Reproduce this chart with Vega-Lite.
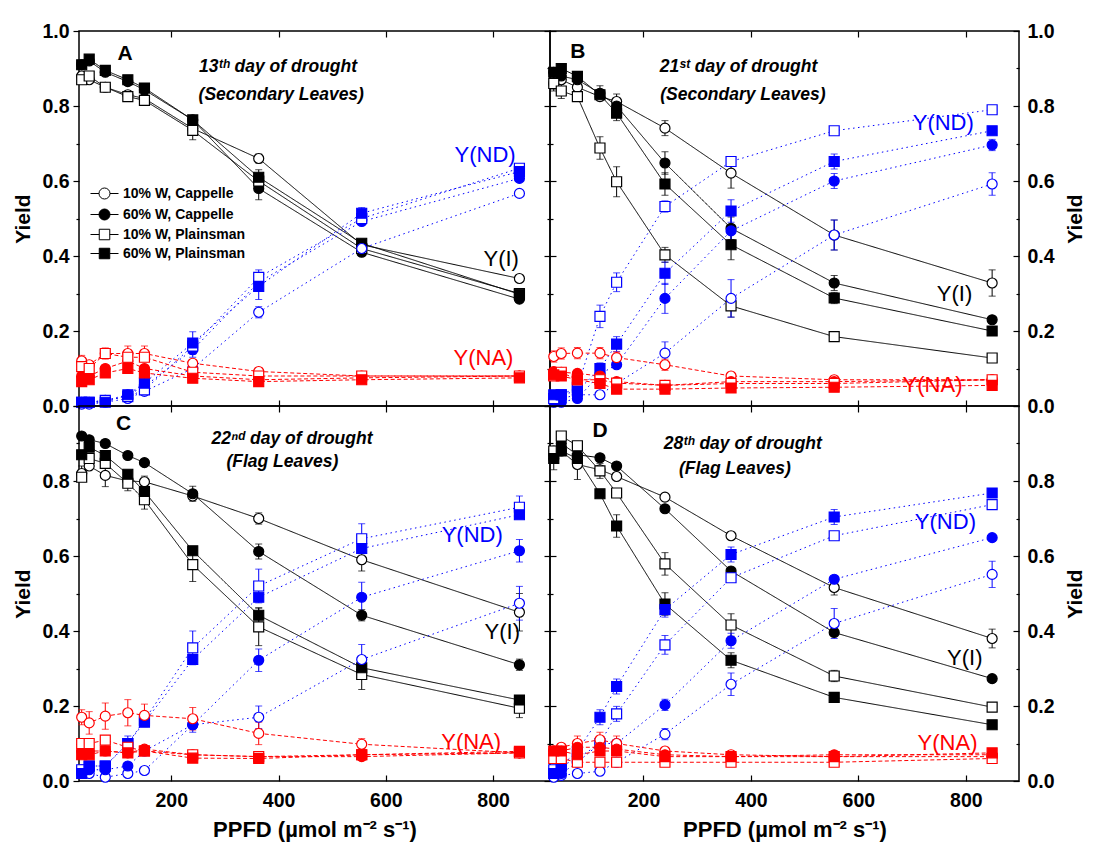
{
"$schema": "https://vega.github.io/schema/vega-lite/v6.json",
"background": "white",
"padding": {"left": 12, "top": 20, "right": 2, "bottom": 2},
"config": {
  "font": "Liberation Sans",
  "view": {"stroke": "black", "strokeWidth": 1.5},
  "axis": {"labelFont": "Liberation Sans", "labelFontSize": 19.5, "labelFontWeight": "bold", "labelColor": "black", "titleFont": "Liberation Sans", "titleFontSize": 21, "titleFontWeight": "bold", "titleColor": "black", "tickColor": "black", "tickWidth": 1.2, "grid": false, "domain": false}
},
"datasets": {
"leg": [{"t": "10% W, Cappelle"}, {"t": "60% W, Cappelle"}, {"t": "10% W, Plainsman"}, {"t": "60% W, Plainsman"}],
"ann": [
{"p":"A","k":"L","x":114,"y":0.94,"text":"A"},
{"p":"A","k":"T","x":399,"y":0.903,"text":"13ᵗʰ day of drought"},
{"p":"A","k":"T","x":405,"y":0.83,"text":"(Secondary Leaves)"},
{"p":"A","k":"P","x":785,"y":0.67,"text":"Y(ND)"},
{"p":"A","k":"P","x":815,"y":0.393,"text":"Y(I)"},
{"p":"A","k":"P","x":782,"y":0.127,"text":"Y(NA)"},
{"p":"B","k":"L","x":78,"y":0.945,"text":"B"},
{"p":"B","k":"T","x":377,"y":0.903,"text":"21ˢᵗ day of drought"},
{"p":"B","k":"T","x":385,"y":0.829,"text":"(Secondary Leaves)"},
{"p":"B","k":"P","x":758,"y":0.756,"text":"Y(ND)"},
{"p":"B","k":"P","x":779,"y":0.30,"text":"Y(I)"},
{"p":"B","k":"P","x":738,"y":0.057,"text":"Y(NA)"},
{"p":"C","k":"L","x":111,"y":0.952,"text":"C"},
{"p":"C","k":"T","x":425,"y":0.912,"text":"22ⁿᵈ day of drought"},
{"p":"C","k":"T","x":407,"y":0.85,"text":"(Flag Leaves)"},
{"p":"C","k":"P","x":761,"y":0.656,"text":"Y(ND)"},
{"p":"C","k":"P","x":817,"y":0.397,"text":"Y(I)"},
{"p":"C","k":"P","x":759,"y":0.104,"text":"Y(NA)"},
{"p":"D","k":"L","x":119,"y":0.933,"text":"D"},
{"p":"D","k":"T","x":385,"y":0.90,"text":"28ᵗʰ day of drought"},
{"p":"D","k":"T","x":370,"y":0.832,"text":"(Flag Leaves)"},
{"p":"D","k":"P","x":762,"y":0.69,"text":"Y(ND)"},
{"p":"D","k":"P","x":798,"y":0.328,"text":"Y(I)"},
{"p":"D","k":"P","x":766,"y":0.101,"text":"Y(NA)"}
],
"main": [
{"p":"A","m":"I","t":"10C","x":33,"y":0.88,"e":0.008},{"p":"A","m":"I","t":"10C","x":47,"y":0.87,"e":0.008},{"p":"A","m":"I","t":"10C","x":77,"y":0.85,"e":0.008},{"p":"A","m":"I","t":"10C","x":119,"y":0.83,"e":0.008},{"p":"A","m":"I","t":"10C","x":150,"y":0.82,"e":0.008},{"p":"A","m":"I","t":"10C","x":240,"y":0.74,"e":0.008},{"p":"A","m":"I","t":"10C","x":363,"y":0.66,"e":0.012},{"p":"A","m":"I","t":"10C","x":555,"y":0.43,"e":0.008},{"p":"A","m":"I","t":"10C","x":849,"y":0.34,"e":0.008},
{"p":"A","m":"I","t":"60C","x":33,"y":0.91,"e":0.008},{"p":"A","m":"I","t":"60C","x":47,"y":0.92,"e":0.008},{"p":"A","m":"I","t":"60C","x":77,"y":0.89,"e":0.008},{"p":"A","m":"I","t":"60C","x":119,"y":0.865,"e":0.008},{"p":"A","m":"I","t":"60C","x":150,"y":0.843,"e":0.008},{"p":"A","m":"I","t":"60C","x":240,"y":0.763,"e":0.008},{"p":"A","m":"I","t":"60C","x":363,"y":0.58,"e":0.03},{"p":"A","m":"I","t":"60C","x":555,"y":0.41,"e":0.01},{"p":"A","m":"I","t":"60C","x":849,"y":0.285,"e":0.008},
{"p":"A","m":"I","t":"10P","x":33,"y":0.87,"e":0.008},{"p":"A","m":"I","t":"10P","x":47,"y":0.88,"e":0.008},{"p":"A","m":"I","t":"10P","x":77,"y":0.85,"e":0.008},{"p":"A","m":"I","t":"10P","x":119,"y":0.825,"e":0.008},{"p":"A","m":"I","t":"10P","x":150,"y":0.815,"e":0.008},{"p":"A","m":"I","t":"10P","x":240,"y":0.735,"e":0.025},{"p":"A","m":"I","t":"10P","x":363,"y":0.60,"e":0.02},{"p":"A","m":"I","t":"10P","x":555,"y":0.42,"e":0.008},{"p":"A","m":"I","t":"10P","x":849,"y":0.30,"e":0.008},
{"p":"A","m":"I","t":"60P","x":33,"y":0.91,"e":0.008},{"p":"A","m":"I","t":"60P","x":47,"y":0.925,"e":0.008},{"p":"A","m":"I","t":"60P","x":77,"y":0.895,"e":0.008},{"p":"A","m":"I","t":"60P","x":119,"y":0.87,"e":0.008},{"p":"A","m":"I","t":"60P","x":150,"y":0.848,"e":0.008},{"p":"A","m":"I","t":"60P","x":240,"y":0.763,"e":0.008},{"p":"A","m":"I","t":"60P","x":363,"y":0.61,"e":0.02},{"p":"A","m":"I","t":"60P","x":555,"y":0.434,"e":0.008},{"p":"A","m":"I","t":"60P","x":849,"y":0.298,"e":0.008},
{"p":"A","m":"ND","t":"10C","x":33,"y":0.005,"e":0.008},{"p":"A","m":"ND","t":"10C","x":47,"y":0.005,"e":0.008},{"p":"A","m":"ND","t":"10C","x":77,"y":0.01,"e":0.008},{"p":"A","m":"ND","t":"10C","x":119,"y":0.02,"e":0.008},{"p":"A","m":"ND","t":"10C","x":150,"y":0.039,"e":0.008},{"p":"A","m":"ND","t":"10C","x":240,"y":0.10,"e":0.008},{"p":"A","m":"ND","t":"10C","x":363,"y":0.25,"e":0.015},{"p":"A","m":"ND","t":"10C","x":555,"y":0.42,"e":0.008},{"p":"A","m":"ND","t":"10C","x":849,"y":0.567,"e":0.008},
{"p":"A","m":"ND","t":"60C","x":33,"y":0.01,"e":0.008},{"p":"A","m":"ND","t":"60C","x":47,"y":0.01,"e":0.008},{"p":"A","m":"ND","t":"60C","x":77,"y":0.015,"e":0.008},{"p":"A","m":"ND","t":"60C","x":119,"y":0.03,"e":0.008},{"p":"A","m":"ND","t":"60C","x":150,"y":0.052,"e":0.008},{"p":"A","m":"ND","t":"60C","x":240,"y":0.15,"e":0.02},{"p":"A","m":"ND","t":"60C","x":363,"y":0.33,"e":0.02},{"p":"A","m":"ND","t":"60C","x":555,"y":0.492,"e":0.008},{"p":"A","m":"ND","t":"60C","x":849,"y":0.607,"e":0.008},
{"p":"A","m":"ND","t":"10P","x":33,"y":0.01,"e":0.008},{"p":"A","m":"ND","t":"10P","x":47,"y":0.01,"e":0.008},{"p":"A","m":"ND","t":"10P","x":77,"y":0.015,"e":0.008},{"p":"A","m":"ND","t":"10P","x":119,"y":0.025,"e":0.008},{"p":"A","m":"ND","t":"10P","x":150,"y":0.043,"e":0.008},{"p":"A","m":"ND","t":"10P","x":240,"y":0.16,"e":0.02},{"p":"A","m":"ND","t":"10P","x":363,"y":0.343,"e":0.02},{"p":"A","m":"ND","t":"10P","x":555,"y":0.50,"e":0.008},{"p":"A","m":"ND","t":"10P","x":849,"y":0.634,"e":0.008},
{"p":"A","m":"ND","t":"60P","x":33,"y":0.01,"e":0.008},{"p":"A","m":"ND","t":"60P","x":47,"y":0.01,"e":0.008},{"p":"A","m":"ND","t":"60P","x":77,"y":0.01,"e":0.008},{"p":"A","m":"ND","t":"60P","x":119,"y":0.03,"e":0.008},{"p":"A","m":"ND","t":"60P","x":150,"y":0.061,"e":0.015},{"p":"A","m":"ND","t":"60P","x":240,"y":0.168,"e":0.03},{"p":"A","m":"ND","t":"60P","x":363,"y":0.319,"e":0.035},{"p":"A","m":"ND","t":"60P","x":555,"y":0.514,"e":0.015},{"p":"A","m":"ND","t":"60P","x":849,"y":0.625,"e":0.015},
{"p":"A","m":"NA","t":"10C","x":33,"y":0.12,"e":0.015},{"p":"A","m":"NA","t":"10C","x":47,"y":0.11,"e":0.008},{"p":"A","m":"NA","t":"10C","x":77,"y":0.14,"e":0.015},{"p":"A","m":"NA","t":"10C","x":119,"y":0.14,"e":0.02},{"p":"A","m":"NA","t":"10C","x":150,"y":0.14,"e":0.02},{"p":"A","m":"NA","t":"10C","x":240,"y":0.114,"e":0.008},{"p":"A","m":"NA","t":"10C","x":363,"y":0.092,"e":0.01},{"p":"A","m":"NA","t":"10C","x":555,"y":0.08,"e":0.008},{"p":"A","m":"NA","t":"10C","x":849,"y":0.08,"e":0.008},
{"p":"A","m":"NA","t":"60C","x":33,"y":0.08,"e":0.008},{"p":"A","m":"NA","t":"60C","x":47,"y":0.08,"e":0.008},{"p":"A","m":"NA","t":"60C","x":77,"y":0.10,"e":0.008},{"p":"A","m":"NA","t":"60C","x":119,"y":0.12,"e":0.008},{"p":"A","m":"NA","t":"60C","x":150,"y":0.10,"e":0.008},{"p":"A","m":"NA","t":"60C","x":240,"y":0.08,"e":0.008},{"p":"A","m":"NA","t":"60C","x":363,"y":0.07,"e":0.008},{"p":"A","m":"NA","t":"60C","x":555,"y":0.075,"e":0.008},{"p":"A","m":"NA","t":"60C","x":849,"y":0.08,"e":0.008},
{"p":"A","m":"NA","t":"10P","x":33,"y":0.105,"e":0.008},{"p":"A","m":"NA","t":"10P","x":47,"y":0.10,"e":0.008},{"p":"A","m":"NA","t":"10P","x":77,"y":0.14,"e":0.008},{"p":"A","m":"NA","t":"10P","x":119,"y":0.13,"e":0.008},{"p":"A","m":"NA","t":"10P","x":150,"y":0.13,"e":0.008},{"p":"A","m":"NA","t":"10P","x":240,"y":0.09,"e":0.008},{"p":"A","m":"NA","t":"10P","x":363,"y":0.08,"e":0.008},{"p":"A","m":"NA","t":"10P","x":555,"y":0.08,"e":0.008},{"p":"A","m":"NA","t":"10P","x":849,"y":0.08,"e":0.008},
{"p":"A","m":"NA","t":"60P","x":33,"y":0.065,"e":0.008},{"p":"A","m":"NA","t":"60P","x":47,"y":0.07,"e":0.008},{"p":"A","m":"NA","t":"60P","x":77,"y":0.088,"e":0.008},{"p":"A","m":"NA","t":"60P","x":119,"y":0.10,"e":0.008},{"p":"A","m":"NA","t":"60P","x":150,"y":0.088,"e":0.008},{"p":"A","m":"NA","t":"60P","x":240,"y":0.074,"e":0.008},{"p":"A","m":"NA","t":"60P","x":363,"y":0.065,"e":0.008},{"p":"A","m":"NA","t":"60P","x":555,"y":0.07,"e":0.008},{"p":"A","m":"NA","t":"60P","x":849,"y":0.075,"e":0.008},

{"p":"B","m":"I","t":"10C","x":33,"y":0.86,"e":0.015},{"p":"B","m":"I","t":"10C","x":47,"y":0.87,"e":0.008},{"p":"B","m":"I","t":"10C","x":77,"y":0.85,"e":0.008},{"p":"B","m":"I","t":"10C","x":119,"y":0.825,"e":0.008},{"p":"B","m":"I","t":"10C","x":150,"y":0.812,"e":0.02},{"p":"B","m":"I","t":"10C","x":240,"y":0.741,"e":0.02},{"p":"B","m":"I","t":"10C","x":363,"y":0.621,"e":0.04},{"p":"B","m":"I","t":"10C","x":555,"y":0.456,"e":0.04},{"p":"B","m":"I","t":"10C","x":849,"y":0.328,"e":0.035},
{"p":"B","m":"I","t":"60C","x":33,"y":0.89,"e":0.008},{"p":"B","m":"I","t":"60C","x":47,"y":0.88,"e":0.008},{"p":"B","m":"I","t":"60C","x":77,"y":0.87,"e":0.008},{"p":"B","m":"I","t":"60C","x":119,"y":0.834,"e":0.02},{"p":"B","m":"I","t":"60C","x":150,"y":0.80,"e":0.008},{"p":"B","m":"I","t":"60C","x":240,"y":0.648,"e":0.03},{"p":"B","m":"I","t":"60C","x":363,"y":0.474,"e":0.03},{"p":"B","m":"I","t":"60C","x":555,"y":0.328,"e":0.02},{"p":"B","m":"I","t":"60C","x":849,"y":0.23,"e":0.008},
{"p":"B","m":"I","t":"10P","x":33,"y":0.86,"e":0.02},{"p":"B","m":"I","t":"10P","x":47,"y":0.84,"e":0.02},{"p":"B","m":"I","t":"10P","x":77,"y":0.825,"e":0.008},{"p":"B","m":"I","t":"10P","x":119,"y":0.688,"e":0.03},{"p":"B","m":"I","t":"10P","x":150,"y":0.598,"e":0.04},{"p":"B","m":"I","t":"10P","x":240,"y":0.403,"e":0.02},{"p":"B","m":"I","t":"10P","x":363,"y":0.267,"e":0.03},{"p":"B","m":"I","t":"10P","x":555,"y":0.185,"e":0.008},{"p":"B","m":"I","t":"10P","x":849,"y":0.128,"e":0.008},
{"p":"B","m":"I","t":"60P","x":33,"y":0.89,"e":0.008},{"p":"B","m":"I","t":"60P","x":47,"y":0.90,"e":0.008},{"p":"B","m":"I","t":"60P","x":77,"y":0.879,"e":0.008},{"p":"B","m":"I","t":"60P","x":119,"y":0.83,"e":0.008},{"p":"B","m":"I","t":"60P","x":150,"y":0.781,"e":0.02},{"p":"B","m":"I","t":"60P","x":240,"y":0.592,"e":0.03},{"p":"B","m":"I","t":"60P","x":363,"y":0.43,"e":0.04},{"p":"B","m":"I","t":"60P","x":555,"y":0.288,"e":0.015},{"p":"B","m":"I","t":"60P","x":849,"y":0.20,"e":0.008},
{"p":"B","m":"ND","t":"10C","x":33,"y":0.02,"e":0.008},{"p":"B","m":"ND","t":"10C","x":47,"y":0.02,"e":0.008},{"p":"B","m":"ND","t":"10C","x":77,"y":0.03,"e":0.008},{"p":"B","m":"ND","t":"10C","x":119,"y":0.03,"e":0.008},{"p":"B","m":"ND","t":"10C","x":150,"y":0.06,"e":0.008},{"p":"B","m":"ND","t":"10C","x":240,"y":0.141,"e":0.03},{"p":"B","m":"ND","t":"10C","x":363,"y":0.287,"e":0.05},{"p":"B","m":"ND","t":"10C","x":555,"y":0.456,"e":0.04},{"p":"B","m":"ND","t":"10C","x":849,"y":0.592,"e":0.03},
{"p":"B","m":"ND","t":"60C","x":33,"y":0.01,"e":0.008},{"p":"B","m":"ND","t":"60C","x":47,"y":0.01,"e":0.008},{"p":"B","m":"ND","t":"60C","x":77,"y":0.02,"e":0.008},{"p":"B","m":"ND","t":"60C","x":119,"y":0.085,"e":0.008},{"p":"B","m":"ND","t":"60C","x":150,"y":0.11,"e":0.008},{"p":"B","m":"ND","t":"60C","x":240,"y":0.287,"e":0.04},{"p":"B","m":"ND","t":"60C","x":363,"y":0.467,"e":0.04},{"p":"B","m":"ND","t":"60C","x":555,"y":0.60,"e":0.02},{"p":"B","m":"ND","t":"60C","x":849,"y":0.696,"e":0.015},
{"p":"B","m":"ND","t":"10P","x":33,"y":0.02,"e":0.008},{"p":"B","m":"ND","t":"10P","x":47,"y":0.03,"e":0.008},{"p":"B","m":"ND","t":"10P","x":77,"y":0.05,"e":0.008},{"p":"B","m":"ND","t":"10P","x":119,"y":0.239,"e":0.03},{"p":"B","m":"ND","t":"10P","x":150,"y":0.33,"e":0.025},{"p":"B","m":"ND","t":"10P","x":240,"y":0.532,"e":0.015},{"p":"B","m":"ND","t":"10P","x":363,"y":0.652,"e":0.01},{"p":"B","m":"ND","t":"10P","x":555,"y":0.734,"e":0.008},{"p":"B","m":"ND","t":"10P","x":849,"y":0.79,"e":0.008},
{"p":"B","m":"ND","t":"60P","x":33,"y":0.03,"e":0.008},{"p":"B","m":"ND","t":"60P","x":47,"y":0.03,"e":0.008},{"p":"B","m":"ND","t":"60P","x":77,"y":0.04,"e":0.008},{"p":"B","m":"ND","t":"60P","x":119,"y":0.10,"e":0.015},{"p":"B","m":"ND","t":"60P","x":150,"y":0.165,"e":0.02},{"p":"B","m":"ND","t":"60P","x":240,"y":0.354,"e":0.03},{"p":"B","m":"ND","t":"60P","x":363,"y":0.52,"e":0.03},{"p":"B","m":"ND","t":"60P","x":555,"y":0.652,"e":0.02},{"p":"B","m":"ND","t":"60P","x":849,"y":0.734,"e":0.008},
{"p":"B","m":"NA","t":"10C","x":33,"y":0.132,"e":0.015},{"p":"B","m":"NA","t":"10C","x":47,"y":0.14,"e":0.015},{"p":"B","m":"NA","t":"10C","x":77,"y":0.141,"e":0.015},{"p":"B","m":"NA","t":"10C","x":119,"y":0.141,"e":0.015},{"p":"B","m":"NA","t":"10C","x":150,"y":0.129,"e":0.015},{"p":"B","m":"NA","t":"10C","x":240,"y":0.11,"e":0.015},{"p":"B","m":"NA","t":"10C","x":363,"y":0.08,"e":0.008},{"p":"B","m":"NA","t":"10C","x":555,"y":0.07,"e":0.008},{"p":"B","m":"NA","t":"10C","x":849,"y":0.07,"e":0.008},
{"p":"B","m":"NA","t":"60C","x":33,"y":0.092,"e":0.008},{"p":"B","m":"NA","t":"60C","x":47,"y":0.09,"e":0.008},{"p":"B","m":"NA","t":"60C","x":77,"y":0.087,"e":0.008},{"p":"B","m":"NA","t":"60C","x":119,"y":0.08,"e":0.008},{"p":"B","m":"NA","t":"60C","x":150,"y":0.065,"e":0.008},{"p":"B","m":"NA","t":"60C","x":240,"y":0.055,"e":0.008},{"p":"B","m":"NA","t":"60C","x":363,"y":0.065,"e":0.008},{"p":"B","m":"NA","t":"60C","x":555,"y":0.065,"e":0.008},{"p":"B","m":"NA","t":"60C","x":849,"y":0.07,"e":0.008},
{"p":"B","m":"NA","t":"10P","x":33,"y":0.08,"e":0.008},{"p":"B","m":"NA","t":"10P","x":47,"y":0.09,"e":0.008},{"p":"B","m":"NA","t":"10P","x":77,"y":0.07,"e":0.008},{"p":"B","m":"NA","t":"10P","x":119,"y":0.07,"e":0.008},{"p":"B","m":"NA","t":"10P","x":150,"y":0.061,"e":0.008},{"p":"B","m":"NA","t":"10P","x":240,"y":0.055,"e":0.008},{"p":"B","m":"NA","t":"10P","x":363,"y":0.06,"e":0.008},{"p":"B","m":"NA","t":"10P","x":555,"y":0.06,"e":0.008},{"p":"B","m":"NA","t":"10P","x":849,"y":0.07,"e":0.008},
{"p":"B","m":"NA","t":"60P","x":33,"y":0.083,"e":0.008},{"p":"B","m":"NA","t":"60P","x":47,"y":0.08,"e":0.008},{"p":"B","m":"NA","t":"60P","x":77,"y":0.07,"e":0.008},{"p":"B","m":"NA","t":"60P","x":119,"y":0.06,"e":0.008},{"p":"B","m":"NA","t":"60P","x":150,"y":0.045,"e":0.008},{"p":"B","m":"NA","t":"60P","x":240,"y":0.045,"e":0.008},{"p":"B","m":"NA","t":"60P","x":363,"y":0.048,"e":0.008},{"p":"B","m":"NA","t":"60P","x":555,"y":0.05,"e":0.008},{"p":"B","m":"NA","t":"60P","x":849,"y":0.055,"e":0.008},

{"p":"C","m":"I","t":"10C","x":33,"y":0.82,"e":0.02},{"p":"C","m":"I","t":"10C","x":47,"y":0.84,"e":0.008},{"p":"C","m":"I","t":"10C","x":77,"y":0.815,"e":0.03},{"p":"C","m":"I","t":"10C","x":119,"y":0.80,"e":0.008},{"p":"C","m":"I","t":"10C","x":150,"y":0.798,"e":0.015},{"p":"C","m":"I","t":"10C","x":240,"y":0.76,"e":0.008},{"p":"C","m":"I","t":"10C","x":363,"y":0.70,"e":0.015},{"p":"C","m":"I","t":"10C","x":555,"y":0.59,"e":0.03},{"p":"C","m":"I","t":"10C","x":849,"y":0.45,"e":0.05},
{"p":"C","m":"I","t":"60C","x":33,"y":0.92,"e":0.008},{"p":"C","m":"I","t":"60C","x":47,"y":0.91,"e":0.008},{"p":"C","m":"I","t":"60C","x":77,"y":0.90,"e":0.008},{"p":"C","m":"I","t":"60C","x":119,"y":0.868,"e":0.008},{"p":"C","m":"I","t":"60C","x":150,"y":0.849,"e":0.008},{"p":"C","m":"I","t":"60C","x":240,"y":0.766,"e":0.02},{"p":"C","m":"I","t":"60C","x":363,"y":0.612,"e":0.02},{"p":"C","m":"I","t":"60C","x":555,"y":0.442,"e":0.015},{"p":"C","m":"I","t":"60C","x":849,"y":0.31,"e":0.015},
{"p":"C","m":"I","t":"10P","x":33,"y":0.81,"e":0.008},{"p":"C","m":"I","t":"10P","x":47,"y":0.86,"e":0.008},{"p":"C","m":"I","t":"10P","x":77,"y":0.847,"e":0.008},{"p":"C","m":"I","t":"10P","x":119,"y":0.794,"e":0.02},{"p":"C","m":"I","t":"10P","x":150,"y":0.75,"e":0.025},{"p":"C","m":"I","t":"10P","x":240,"y":0.577,"e":0.045},{"p":"C","m":"I","t":"10P","x":363,"y":0.411,"e":0.05},{"p":"C","m":"I","t":"10P","x":555,"y":0.284,"e":0.04},{"p":"C","m":"I","t":"10P","x":849,"y":0.194,"e":0.025},
{"p":"C","m":"I","t":"60P","x":33,"y":0.87,"e":0.008},{"p":"C","m":"I","t":"60P","x":47,"y":0.89,"e":0.008},{"p":"C","m":"I","t":"60P","x":77,"y":0.868,"e":0.008},{"p":"C","m":"I","t":"60P","x":119,"y":0.818,"e":0.008},{"p":"C","m":"I","t":"60P","x":150,"y":0.772,"e":0.008},{"p":"C","m":"I","t":"60P","x":240,"y":0.614,"e":0.008},{"p":"C","m":"I","t":"60P","x":363,"y":0.442,"e":0.02},{"p":"C","m":"I","t":"60P","x":555,"y":0.302,"e":0.008},{"p":"C","m":"I","t":"60P","x":849,"y":0.216,"e":0.008},
{"p":"C","m":"ND","t":"10C","x":33,"y":0.02,"e":0.008},{"p":"C","m":"ND","t":"10C","x":47,"y":0.02,"e":0.008},{"p":"C","m":"ND","t":"10C","x":77,"y":0.01,"e":0.008},{"p":"C","m":"ND","t":"10C","x":119,"y":0.02,"e":0.008},{"p":"C","m":"ND","t":"10C","x":150,"y":0.028,"e":0.008},{"p":"C","m":"ND","t":"10C","x":240,"y":0.15,"e":0.02},{"p":"C","m":"ND","t":"10C","x":363,"y":0.17,"e":0.03},{"p":"C","m":"ND","t":"10C","x":555,"y":0.324,"e":0.04},{"p":"C","m":"ND","t":"10C","x":849,"y":0.474,"e":0.045},
{"p":"C","m":"ND","t":"60C","x":33,"y":0.03,"e":0.008},{"p":"C","m":"ND","t":"60C","x":47,"y":0.03,"e":0.008},{"p":"C","m":"ND","t":"60C","x":77,"y":0.03,"e":0.008},{"p":"C","m":"ND","t":"60C","x":119,"y":0.04,"e":0.008},{"p":"C","m":"ND","t":"60C","x":150,"y":0.08,"e":0.008},{"p":"C","m":"ND","t":"60C","x":240,"y":0.15,"e":0.008},{"p":"C","m":"ND","t":"60C","x":363,"y":0.322,"e":0.03},{"p":"C","m":"ND","t":"60C","x":555,"y":0.49,"e":0.04},{"p":"C","m":"ND","t":"60C","x":849,"y":0.614,"e":0.03},
{"p":"C","m":"ND","t":"10P","x":33,"y":0.03,"e":0.008},{"p":"C","m":"ND","t":"10P","x":47,"y":0.04,"e":0.008},{"p":"C","m":"ND","t":"10P","x":77,"y":0.04,"e":0.008},{"p":"C","m":"ND","t":"10P","x":119,"y":0.10,"e":0.02},{"p":"C","m":"ND","t":"10P","x":150,"y":0.162,"e":0.008},{"p":"C","m":"ND","t":"10P","x":240,"y":0.355,"e":0.045},{"p":"C","m":"ND","t":"10P","x":363,"y":0.52,"e":0.045},{"p":"C","m":"ND","t":"10P","x":555,"y":0.646,"e":0.04},{"p":"C","m":"ND","t":"10P","x":849,"y":0.73,"e":0.03},
{"p":"C","m":"ND","t":"60P","x":33,"y":0.02,"e":0.008},{"p":"C","m":"ND","t":"60P","x":47,"y":0.04,"e":0.008},{"p":"C","m":"ND","t":"60P","x":77,"y":0.04,"e":0.008},{"p":"C","m":"ND","t":"60P","x":119,"y":0.10,"e":0.008},{"p":"C","m":"ND","t":"60P","x":150,"y":0.157,"e":0.008},{"p":"C","m":"ND","t":"60P","x":240,"y":0.324,"e":0.008},{"p":"C","m":"ND","t":"60P","x":363,"y":0.49,"e":0.008},{"p":"C","m":"ND","t":"60P","x":555,"y":0.62,"e":0.008},{"p":"C","m":"ND","t":"60P","x":849,"y":0.71,"e":0.008},
{"p":"C","m":"NA","t":"10C","x":33,"y":0.17,"e":0.02},{"p":"C","m":"NA","t":"10C","x":47,"y":0.155,"e":0.03},{"p":"C","m":"NA","t":"10C","x":77,"y":0.173,"e":0.035},{"p":"C","m":"NA","t":"10C","x":119,"y":0.182,"e":0.035},{"p":"C","m":"NA","t":"10C","x":150,"y":0.175,"e":0.03},{"p":"C","m":"NA","t":"10C","x":240,"y":0.166,"e":0.03},{"p":"C","m":"NA","t":"10C","x":363,"y":0.127,"e":0.03},{"p":"C","m":"NA","t":"10C","x":555,"y":0.098,"e":0.015},{"p":"C","m":"NA","t":"10C","x":849,"y":0.075,"e":0.008},
{"p":"C","m":"NA","t":"60C","x":33,"y":0.08,"e":0.008},{"p":"C","m":"NA","t":"60C","x":47,"y":0.08,"e":0.008},{"p":"C","m":"NA","t":"60C","x":77,"y":0.08,"e":0.008},{"p":"C","m":"NA","t":"60C","x":119,"y":0.075,"e":0.008},{"p":"C","m":"NA","t":"60C","x":150,"y":0.085,"e":0.008},{"p":"C","m":"NA","t":"60C","x":240,"y":0.07,"e":0.008},{"p":"C","m":"NA","t":"60C","x":363,"y":0.065,"e":0.008},{"p":"C","m":"NA","t":"60C","x":555,"y":0.065,"e":0.008},{"p":"C","m":"NA","t":"60C","x":849,"y":0.075,"e":0.008},
{"p":"C","m":"NA","t":"10P","x":33,"y":0.10,"e":0.008},{"p":"C","m":"NA","t":"10P","x":47,"y":0.10,"e":0.008},{"p":"C","m":"NA","t":"10P","x":77,"y":0.109,"e":0.008},{"p":"C","m":"NA","t":"10P","x":119,"y":0.09,"e":0.008},{"p":"C","m":"NA","t":"10P","x":150,"y":0.08,"e":0.008},{"p":"C","m":"NA","t":"10P","x":240,"y":0.07,"e":0.008},{"p":"C","m":"NA","t":"10P","x":363,"y":0.065,"e":0.008},{"p":"C","m":"NA","t":"10P","x":555,"y":0.07,"e":0.008},{"p":"C","m":"NA","t":"10P","x":849,"y":0.075,"e":0.008},
{"p":"C","m":"NA","t":"60P","x":33,"y":0.07,"e":0.008},{"p":"C","m":"NA","t":"60P","x":47,"y":0.07,"e":0.008},{"p":"C","m":"NA","t":"60P","x":77,"y":0.08,"e":0.008},{"p":"C","m":"NA","t":"60P","x":119,"y":0.075,"e":0.008},{"p":"C","m":"NA","t":"60P","x":150,"y":0.08,"e":0.008},{"p":"C","m":"NA","t":"60P","x":240,"y":0.061,"e":0.008},{"p":"C","m":"NA","t":"60P","x":363,"y":0.06,"e":0.008},{"p":"C","m":"NA","t":"60P","x":555,"y":0.07,"e":0.008},{"p":"C","m":"NA","t":"60P","x":849,"y":0.079,"e":0.008},

{"p":"D","m":"I","t":"10C","x":33,"y":0.86,"e":0.03},{"p":"D","m":"I","t":"10C","x":47,"y":0.88,"e":0.008},{"p":"D","m":"I","t":"10C","x":77,"y":0.844,"e":0.04},{"p":"D","m":"I","t":"10C","x":119,"y":0.83,"e":0.008},{"p":"D","m":"I","t":"10C","x":150,"y":0.812,"e":0.008},{"p":"D","m":"I","t":"10C","x":240,"y":0.757,"e":0.01},{"p":"D","m":"I","t":"10C","x":363,"y":0.654,"e":0.008},{"p":"D","m":"I","t":"10C","x":555,"y":0.516,"e":0.02},{"p":"D","m":"I","t":"10C","x":849,"y":0.38,"e":0.025},
{"p":"D","m":"I","t":"60C","x":33,"y":0.88,"e":0.008},{"p":"D","m":"I","t":"60C","x":47,"y":0.90,"e":0.008},{"p":"D","m":"I","t":"60C","x":77,"y":0.87,"e":0.008},{"p":"D","m":"I","t":"60C","x":119,"y":0.862,"e":0.008},{"p":"D","m":"I","t":"60C","x":150,"y":0.84,"e":0.008},{"p":"D","m":"I","t":"60C","x":240,"y":0.726,"e":0.008},{"p":"D","m":"I","t":"60C","x":363,"y":0.56,"e":0.008},{"p":"D","m":"I","t":"60C","x":555,"y":0.396,"e":0.008},{"p":"D","m":"I","t":"60C","x":849,"y":0.273,"e":0.008},
{"p":"D","m":"I","t":"10P","x":33,"y":0.88,"e":0.008},{"p":"D","m":"I","t":"10P","x":47,"y":0.92,"e":0.008},{"p":"D","m":"I","t":"10P","x":77,"y":0.894,"e":0.008},{"p":"D","m":"I","t":"10P","x":119,"y":0.827,"e":0.02},{"p":"D","m":"I","t":"10P","x":150,"y":0.768,"e":0.008},{"p":"D","m":"I","t":"10P","x":240,"y":0.579,"e":0.03},{"p":"D","m":"I","t":"10P","x":363,"y":0.416,"e":0.03},{"p":"D","m":"I","t":"10P","x":555,"y":0.28,"e":0.015},{"p":"D","m":"I","t":"10P","x":849,"y":0.197,"e":0.008},
{"p":"D","m":"I","t":"60P","x":33,"y":0.86,"e":0.008},{"p":"D","m":"I","t":"60P","x":47,"y":0.88,"e":0.008},{"p":"D","m":"I","t":"60P","x":77,"y":0.86,"e":0.008},{"p":"D","m":"I","t":"60P","x":119,"y":0.766,"e":0.008},{"p":"D","m":"I","t":"60P","x":150,"y":0.68,"e":0.03},{"p":"D","m":"I","t":"60P","x":240,"y":0.472,"e":0.03},{"p":"D","m":"I","t":"60P","x":363,"y":0.322,"e":0.02},{"p":"D","m":"I","t":"60P","x":555,"y":0.223,"e":0.008},{"p":"D","m":"I","t":"60P","x":849,"y":0.15,"e":0.008},
{"p":"D","m":"ND","t":"10C","x":33,"y":0.01,"e":0.008},{"p":"D","m":"ND","t":"10C","x":47,"y":0.015,"e":0.008},{"p":"D","m":"ND","t":"10C","x":77,"y":0.02,"e":0.008},{"p":"D","m":"ND","t":"10C","x":119,"y":0.026,"e":0.008},{"p":"D","m":"ND","t":"10C","x":150,"y":0.05,"e":0.008},{"p":"D","m":"ND","t":"10C","x":240,"y":0.125,"e":0.015},{"p":"D","m":"ND","t":"10C","x":363,"y":0.258,"e":0.03},{"p":"D","m":"ND","t":"10C","x":555,"y":0.42,"e":0.04},{"p":"D","m":"ND","t":"10C","x":849,"y":0.551,"e":0.035},
{"p":"D","m":"ND","t":"60C","x":33,"y":0.02,"e":0.008},{"p":"D","m":"ND","t":"60C","x":47,"y":0.02,"e":0.008},{"p":"D","m":"ND","t":"60C","x":77,"y":0.05,"e":0.008},{"p":"D","m":"ND","t":"60C","x":119,"y":0.10,"e":0.008},{"p":"D","m":"ND","t":"60C","x":150,"y":0.10,"e":0.008},{"p":"D","m":"ND","t":"60C","x":240,"y":0.203,"e":0.015},{"p":"D","m":"ND","t":"60C","x":363,"y":0.374,"e":0.02},{"p":"D","m":"ND","t":"60C","x":555,"y":0.538,"e":0.008},{"p":"D","m":"ND","t":"60C","x":849,"y":0.649,"e":0.008},
{"p":"D","m":"ND","t":"10P","x":33,"y":0.03,"e":0.008},{"p":"D","m":"ND","t":"10P","x":47,"y":0.04,"e":0.008},{"p":"D","m":"ND","t":"10P","x":77,"y":0.06,"e":0.008},{"p":"D","m":"ND","t":"10P","x":119,"y":0.10,"e":0.008},{"p":"D","m":"ND","t":"10P","x":150,"y":0.179,"e":0.02},{"p":"D","m":"ND","t":"10P","x":240,"y":0.363,"e":0.025},{"p":"D","m":"ND","t":"10P","x":363,"y":0.542,"e":0.008},{"p":"D","m":"ND","t":"10P","x":555,"y":0.654,"e":0.008},{"p":"D","m":"ND","t":"10P","x":849,"y":0.737,"e":0.008},
{"p":"D","m":"ND","t":"60P","x":33,"y":0.02,"e":0.008},{"p":"D","m":"ND","t":"60P","x":47,"y":0.04,"e":0.008},{"p":"D","m":"ND","t":"60P","x":77,"y":0.08,"e":0.008},{"p":"D","m":"ND","t":"60P","x":119,"y":0.17,"e":0.02},{"p":"D","m":"ND","t":"60P","x":150,"y":0.252,"e":0.02},{"p":"D","m":"ND","t":"60P","x":240,"y":0.457,"e":0.02},{"p":"D","m":"ND","t":"60P","x":363,"y":0.604,"e":0.02},{"p":"D","m":"ND","t":"60P","x":555,"y":0.704,"e":0.02},{"p":"D","m":"ND","t":"60P","x":849,"y":0.768,"e":0.008},
{"p":"D","m":"NA","t":"10C","x":33,"y":0.08,"e":0.008},{"p":"D","m":"NA","t":"10C","x":47,"y":0.09,"e":0.008},{"p":"D","m":"NA","t":"10C","x":77,"y":0.10,"e":0.02},{"p":"D","m":"NA","t":"10C","x":119,"y":0.11,"e":0.02},{"p":"D","m":"NA","t":"10C","x":150,"y":0.10,"e":0.02},{"p":"D","m":"NA","t":"10C","x":240,"y":0.08,"e":0.008},{"p":"D","m":"NA","t":"10C","x":363,"y":0.07,"e":0.008},{"p":"D","m":"NA","t":"10C","x":555,"y":0.065,"e":0.008},{"p":"D","m":"NA","t":"10C","x":849,"y":0.065,"e":0.008},
{"p":"D","m":"NA","t":"60C","x":33,"y":0.08,"e":0.008},{"p":"D","m":"NA","t":"60C","x":47,"y":0.08,"e":0.008},{"p":"D","m":"NA","t":"60C","x":77,"y":0.09,"e":0.008},{"p":"D","m":"NA","t":"60C","x":119,"y":0.09,"e":0.008},{"p":"D","m":"NA","t":"60C","x":150,"y":0.085,"e":0.008},{"p":"D","m":"NA","t":"60C","x":240,"y":0.07,"e":0.008},{"p":"D","m":"NA","t":"60C","x":363,"y":0.065,"e":0.008},{"p":"D","m":"NA","t":"60C","x":555,"y":0.07,"e":0.008},{"p":"D","m":"NA","t":"60C","x":849,"y":0.07,"e":0.008},
{"p":"D","m":"NA","t":"10P","x":33,"y":0.06,"e":0.008},{"p":"D","m":"NA","t":"10P","x":47,"y":0.06,"e":0.008},{"p":"D","m":"NA","t":"10P","x":77,"y":0.05,"e":0.008},{"p":"D","m":"NA","t":"10P","x":119,"y":0.05,"e":0.008},{"p":"D","m":"NA","t":"10P","x":150,"y":0.05,"e":0.008},{"p":"D","m":"NA","t":"10P","x":240,"y":0.05,"e":0.008},{"p":"D","m":"NA","t":"10P","x":363,"y":0.05,"e":0.008},{"p":"D","m":"NA","t":"10P","x":555,"y":0.05,"e":0.008},{"p":"D","m":"NA","t":"10P","x":849,"y":0.06,"e":0.008},
{"p":"D","m":"NA","t":"60P","x":33,"y":0.08,"e":0.008},{"p":"D","m":"NA","t":"60P","x":47,"y":0.08,"e":0.008},{"p":"D","m":"NA","t":"60P","x":77,"y":0.07,"e":0.008},{"p":"D","m":"NA","t":"60P","x":119,"y":0.08,"e":0.008},{"p":"D","m":"NA","t":"60P","x":150,"y":0.08,"e":0.008},{"p":"D","m":"NA","t":"60P","x":240,"y":0.065,"e":0.008},{"p":"D","m":"NA","t":"60P","x":363,"y":0.065,"e":0.008},{"p":"D","m":"NA","t":"60P","x":555,"y":0.065,"e":0.008},{"p":"D","m":"NA","t":"60P","x":849,"y":0.075,"e":0.008}
]
},
"columns": 2,
"spacing": 0,
"bounds": "flush",
"concat": [
{
 "width": 471, "height": 375,
 "data": {"name": "main"},
 "transform": [{"filter": "datum.p=='A'"}],
 "encoding": {
  "x": {"field": "x", "type": "quantitative", "scale": {"domain": [28, 906], "nice": false, "zero": false}, "axis": null},
  "y": {"field": "y", "type": "quantitative", "scale": {"domain": [0, 1], "nice": false, "zero": false}, "axis": null}
 },
 "layer": [
  {"mark": {"type": "line", "strokeWidth": 1},
   "encoding": {
    "x": {"field": "x", "type": "quantitative", "scale": {"domain": [28, 906], "nice": false, "zero": false}, "axis": {"orient": "bottom", "values": [200, 400, 600, 800], "labels": false, "tickSize": -6, "title": null}},
    "y": {"field": "y", "type": "quantitative", "scale": {"domain": [0, 1], "nice": false, "zero": false}, "axis": {"orient": "left", "values": [0, 0.1, 0.2, 0.3, 0.4, 0.5, 0.6, 0.7, 0.8, 0.9, 1], "labelExpr": "round(datum.value*10)%2==0 ? format(datum.value,'.1f') : ''", "tickSize": {"condition": {"test": "round(datum.value*10)%2==0", "value": 6}, "value": 3}, "labelPadding": 4, "title": "Yield", "titlePadding": 8}},
    "detail": [{"field": "m", "type": "nominal"}, {"field": "t", "type": "nominal"}],
    "color": {"condition": [{"test": "datum.m=='I'", "value": "black"}, {"test": "datum.m=='ND'", "value": "#0000ff"}], "value": "#ff0000"},
    "strokeDash": {"condition": [{"test": "datum.m=='I'", "value": [1, 0]}, {"test": "datum.m=='ND'", "value": [1.5, 3.5]}], "value": [4, 2.5]}
   }},
  {"transform": [{"filter": "datum.m=='I'"}], "mark": {"type": "errorbar", "color": "black", "ticks": {"size": 7}, "thickness": 1}, "encoding": {"yError": {"field": "e"}}},
  {"transform": [{"filter": "datum.m=='ND'"}], "mark": {"type": "errorbar", "color": "#0000ff", "ticks": {"size": 7}, "thickness": 1}, "encoding": {"yError": {"field": "e"}}},
  {"transform": [{"filter": "datum.m=='NA'"}], "mark": {"type": "errorbar", "color": "#ff0000", "ticks": {"size": 7}, "thickness": 1}, "encoding": {"yError": {"field": "e"}}},
  {"mark": {"type": "point", "filled": true, "size": 100, "strokeWidth": 1.2, "opacity": 1},
   "encoding": {
    "x": {"field": "x", "type": "quantitative", "scale": {"domain": [28, 906], "nice": false, "zero": false}, "axis": {"orient": "top", "values": [200, 400, 600, 800], "labels": false, "tickSize": -6, "title": null}},
    "y": {"field": "y", "type": "quantitative", "scale": {"domain": [0, 1], "nice": false, "zero": false}, "axis": {"orient": "right", "values": [0, 0.1, 0.2, 0.3, 0.4, 0.5, 0.6, 0.7, 0.8, 0.9, 1], "labels": false, "tickSize": {"condition": {"test": "round(datum.value*10)%2==0", "value": -6}, "value": -3}, "title": null}},
    "shape": {"condition": {"test": "indexof(datum.t,'C')>=0", "value": "circle"}, "value": "square"},
    "fill": {"condition": [{"test": "indexof(datum.t,'10')==0", "value": "white"}, {"test": "datum.m=='I'", "value": "black"}, {"test": "datum.m=='ND'", "value": "#0000ff"}], "value": "#ff0000"},
    "stroke": {"condition": [{"test": "datum.m=='I'", "value": "black"}, {"test": "datum.m=='ND'", "value": "#0000ff"}], "value": "#ff0000"}
   }},
  {"data": {"name": "ann"}, "transform": [{"filter": "datum.p=='A' && datum.k=='L'"}], "mark": {"type": "text", "fontSize": 21, "fontWeight": "bold", "color": "black", "baseline": "middle", "align": "center"}, "encoding": {"text": {"field": "text"}}},
  {"data": {"name": "ann"}, "transform": [{"filter": "datum.p=='A' && datum.k=='T'"}], "mark": {"type": "text", "fontSize": 17.5, "fontWeight": "bold", "fontStyle": "italic", "color": "black", "baseline": "middle", "align": "center"}, "encoding": {"text": {"field": "text"}}},
  {"data": {"name": "ann"}, "transform": [{"filter": "datum.p=='A' && datum.k=='P'"}], "mark": {"type": "text", "fontSize": 22, "baseline": "middle", "align": "center"}, "encoding": {"text": {"field": "text"}, "color": {"condition": [{"test": "datum.text=='Y(I)'", "value": "black"}, {"test": "datum.text=='Y(ND)'", "value": "#0000ff"}], "value": "#ff0000"}}},
  {"data": {"name": "leg"}, "mark": {"type": "point", "opacity": 0, "strokeWidth": 1, "filled": false},
   "encoding": {
    "shape": {"field": "t", "type": "nominal", "scale": {"domain": ["10% W, Cappelle", "60% W, Cappelle", "10% W, Plainsman", "60% W, Plainsman"], "range": ["M-2,0L-0.786,0M0.786,0L2,0M0.786,0A0.786,0.786,0,1,1,-0.786,0A0.786,0.786,0,1,1,0.786,0Z", "M-2,0L-0.786,0M0.786,0L2,0M0.786,0A0.786,0.786,0,1,1,-0.786,0A0.786,0.786,0,1,1,0.786,0Z", "M-2,0L-0.75,0M0.75,0L2,0M-0.75,-0.75L0.75,-0.75L0.75,0.75L-0.75,0.75Z", "M-2,0L-0.75,0M0.75,0L2,0M-0.75,-0.75L0.75,-0.75L0.75,0.75L-0.75,0.75Z"]}, "legend": {"orient": "none", "legendX": 18, "legendY": 155, "title": null, "labelFont": "Liberation Sans", "labelFontSize": 14, "labelFontWeight": "bold", "labelColor": "black", "symbolSize": 196, "symbolStrokeWidth": 1, "labelOffset": 11, "rowPadding": 4, "symbolOpacity": 1}},
    "fill": {"field": "t", "type": "nominal", "scale": {"domain": ["10% W, Cappelle", "60% W, Cappelle", "10% W, Plainsman", "60% W, Plainsman"], "range": ["white", "black", "white", "black"]}, "legend": {"orient": "none", "legendX": 18, "legendY": 155, "title": null, "labelFont": "Liberation Sans", "labelFontSize": 14, "labelFontWeight": "bold", "labelColor": "black", "symbolSize": 196, "symbolStrokeWidth": 1, "labelOffset": 11, "rowPadding": 4, "symbolOpacity": 1}},
    "stroke": {"field": "t", "type": "nominal", "scale": {"domain": ["10% W, Cappelle", "60% W, Cappelle", "10% W, Plainsman", "60% W, Plainsman"], "range": ["black", "black", "black", "black"]}, "legend": {"orient": "none", "legendX": 18, "legendY": 155, "title": null, "labelFont": "Liberation Sans", "labelFontSize": 14, "labelFontWeight": "bold", "labelColor": "black", "symbolSize": 196, "symbolStrokeWidth": 1, "labelOffset": 11, "rowPadding": 4, "symbolOpacity": 1}}
   }}
 ],
 "resolve": {"axis": {"x": "independent", "y": "independent"}}
},
{
 "width": 469, "height": 375,
 "data": {"name": "main"},
 "transform": [{"filter": "datum.p=='B'"}],
 "encoding": {
  "x": {"field": "x", "type": "quantitative", "scale": {"domain": [26, 899], "nice": false, "zero": false}, "axis": null},
  "y": {"field": "y", "type": "quantitative", "scale": {"domain": [0, 1], "nice": false, "zero": false}, "axis": null}
 },
 "layer": [
  {"mark": {"type": "line", "strokeWidth": 1},
   "encoding": {
    "x": {"field": "x", "type": "quantitative", "scale": {"domain": [26, 899], "nice": false, "zero": false}, "axis": {"orient": "bottom", "values": [200, 400, 600, 800], "labels": false, "tickSize": -6, "title": null}},
    "y": {"field": "y", "type": "quantitative", "scale": {"domain": [0, 1], "nice": false, "zero": false}, "axis": {"orient": "right", "values": [0, 0.1, 0.2, 0.3, 0.4, 0.5, 0.6, 0.7, 0.8, 0.9, 1], "labelExpr": "round(datum.value*10)%2==0 ? format(datum.value,'.1f') : ''", "tickSize": {"condition": {"test": "round(datum.value*10)%2==0", "value": -6}, "value": -3}, "labelPadding": 14, "title": "Yield", "titleAngle": 270, "titleBaseline": "top", "titlePadding": 10}},
    "detail": [{"field": "m", "type": "nominal"}, {"field": "t", "type": "nominal"}],
    "color": {"condition": [{"test": "datum.m=='I'", "value": "black"}, {"test": "datum.m=='ND'", "value": "#0000ff"}], "value": "#ff0000"},
    "strokeDash": {"condition": [{"test": "datum.m=='I'", "value": [1, 0]}, {"test": "datum.m=='ND'", "value": [1.5, 3.5]}], "value": [4, 2.5]}
   }},
  {"transform": [{"filter": "datum.m=='I'"}], "mark": {"type": "errorbar", "color": "black", "ticks": {"size": 7}, "thickness": 1}, "encoding": {"yError": {"field": "e"}}},
  {"transform": [{"filter": "datum.m=='ND'"}], "mark": {"type": "errorbar", "color": "#0000ff", "ticks": {"size": 7}, "thickness": 1}, "encoding": {"yError": {"field": "e"}}},
  {"transform": [{"filter": "datum.m=='NA'"}], "mark": {"type": "errorbar", "color": "#ff0000", "ticks": {"size": 7}, "thickness": 1}, "encoding": {"yError": {"field": "e"}}},
  {"mark": {"type": "point", "filled": true, "size": 100, "strokeWidth": 1.2, "opacity": 1},
   "encoding": {
    "x": {"field": "x", "type": "quantitative", "scale": {"domain": [26, 899], "nice": false, "zero": false}, "axis": {"orient": "top", "values": [200, 400, 600, 800], "labels": false, "tickSize": -6, "title": null}},
    "y": {"field": "y", "type": "quantitative", "scale": {"domain": [0, 1], "nice": false, "zero": false}, "axis": {"orient": "left", "values": [0, 0.1, 0.2, 0.3, 0.4, 0.5, 0.6, 0.7, 0.8, 0.9, 1], "labels": false, "tickSize": {"condition": {"test": "round(datum.value*10)%2==0", "value": -6}, "value": -3}, "title": null}},
    "shape": {"condition": {"test": "indexof(datum.t,'C')>=0", "value": "circle"}, "value": "square"},
    "fill": {"condition": [{"test": "indexof(datum.t,'10')==0", "value": "white"}, {"test": "datum.m=='I'", "value": "black"}, {"test": "datum.m=='ND'", "value": "#0000ff"}], "value": "#ff0000"},
    "stroke": {"condition": [{"test": "datum.m=='I'", "value": "black"}, {"test": "datum.m=='ND'", "value": "#0000ff"}], "value": "#ff0000"}
   }},
  {"data": {"name": "ann"}, "transform": [{"filter": "datum.p=='B' && datum.k=='L'"}], "mark": {"type": "text", "fontSize": 21, "fontWeight": "bold", "color": "black", "baseline": "middle", "align": "center"}, "encoding": {"text": {"field": "text"}}},
  {"data": {"name": "ann"}, "transform": [{"filter": "datum.p=='B' && datum.k=='T'"}], "mark": {"type": "text", "fontSize": 17.5, "fontWeight": "bold", "fontStyle": "italic", "color": "black", "baseline": "middle", "align": "center"}, "encoding": {"text": {"field": "text"}}},
  {"data": {"name": "ann"}, "transform": [{"filter": "datum.p=='B' && datum.k=='P'"}], "mark": {"type": "text", "fontSize": 22, "baseline": "middle", "align": "center"}, "encoding": {"text": {"field": "text"}, "color": {"condition": [{"test": "datum.text=='Y(I)'", "value": "black"}, {"test": "datum.text=='Y(ND)'", "value": "#0000ff"}], "value": "#ff0000"}}}
 ],
 "resolve": {"axis": {"x": "independent", "y": "independent"}}
},
{
 "width": 471, "height": 375,
 "data": {"name": "main"},
 "transform": [{"filter": "datum.p=='C'"}],
 "encoding": {
  "x": {"field": "x", "type": "quantitative", "scale": {"domain": [28, 906], "nice": false, "zero": false}, "axis": null},
  "y": {"field": "y", "type": "quantitative", "scale": {"domain": [0, 1], "nice": false, "zero": false}, "axis": null}
 },
 "layer": [
  {"mark": {"type": "line", "strokeWidth": 1},
   "encoding": {
    "x": {"field": "x", "type": "quantitative", "scale": {"domain": [28, 906], "nice": false, "zero": false}, "axis": {"orient": "bottom", "values": [200, 400, 600, 800], "tickSize": -6, "labelPadding": 16, "title": "PPFD (µmol m⁻² s⁻¹)", "titleFontSize": 22, "titlePadding": 10}},
    "y": {"field": "y", "type": "quantitative", "scale": {"domain": [0, 1], "nice": false, "zero": false}, "axis": {"orient": "left", "values": [0, 0.1, 0.2, 0.3, 0.4, 0.5, 0.6, 0.7, 0.8, 0.9, 1], "labelExpr": "round(datum.value*10)%2==0 && datum.value<0.95 ? format(datum.value,'.1f') : ''", "tickSize": {"condition": {"test": "round(datum.value*10)%2==0", "value": 6}, "value": 3}, "labelPadding": 4, "title": "Yield", "titlePadding": 8}},
    "detail": [{"field": "m", "type": "nominal"}, {"field": "t", "type": "nominal"}],
    "color": {"condition": [{"test": "datum.m=='I'", "value": "black"}, {"test": "datum.m=='ND'", "value": "#0000ff"}], "value": "#ff0000"},
    "strokeDash": {"condition": [{"test": "datum.m=='I'", "value": [1, 0]}, {"test": "datum.m=='ND'", "value": [1.5, 3.5]}], "value": [4, 2.5]}
   }},
  {"transform": [{"filter": "datum.m=='I'"}], "mark": {"type": "errorbar", "color": "black", "ticks": {"size": 7}, "thickness": 1}, "encoding": {"yError": {"field": "e"}}},
  {"transform": [{"filter": "datum.m=='ND'"}], "mark": {"type": "errorbar", "color": "#0000ff", "ticks": {"size": 7}, "thickness": 1}, "encoding": {"yError": {"field": "e"}}},
  {"transform": [{"filter": "datum.m=='NA'"}], "mark": {"type": "errorbar", "color": "#ff0000", "ticks": {"size": 7}, "thickness": 1}, "encoding": {"yError": {"field": "e"}}},
  {"mark": {"type": "point", "filled": true, "size": 100, "strokeWidth": 1.2, "opacity": 1},
   "encoding": {
    "x": {"field": "x", "type": "quantitative", "scale": {"domain": [28, 906], "nice": false, "zero": false}, "axis": {"orient": "top", "values": [200, 400, 600, 800], "labels": false, "tickSize": -6, "title": null}},
    "y": {"field": "y", "type": "quantitative", "scale": {"domain": [0, 1], "nice": false, "zero": false}, "axis": {"orient": "right", "values": [0, 0.1, 0.2, 0.3, 0.4, 0.5, 0.6, 0.7, 0.8, 0.9, 1], "labels": false, "tickSize": {"condition": {"test": "round(datum.value*10)%2==0", "value": -6}, "value": -3}, "title": null}},
    "shape": {"condition": {"test": "indexof(datum.t,'C')>=0", "value": "circle"}, "value": "square"},
    "fill": {"condition": [{"test": "indexof(datum.t,'10')==0", "value": "white"}, {"test": "datum.m=='I'", "value": "black"}, {"test": "datum.m=='ND'", "value": "#0000ff"}], "value": "#ff0000"},
    "stroke": {"condition": [{"test": "datum.m=='I'", "value": "black"}, {"test": "datum.m=='ND'", "value": "#0000ff"}], "value": "#ff0000"}
   }},
  {"data": {"name": "ann"}, "transform": [{"filter": "datum.p=='C' && datum.k=='L'"}], "mark": {"type": "text", "fontSize": 21, "fontWeight": "bold", "color": "black", "baseline": "middle", "align": "center"}, "encoding": {"text": {"field": "text"}}},
  {"data": {"name": "ann"}, "transform": [{"filter": "datum.p=='C' && datum.k=='T'"}], "mark": {"type": "text", "fontSize": 17.5, "fontWeight": "bold", "fontStyle": "italic", "color": "black", "baseline": "middle", "align": "center"}, "encoding": {"text": {"field": "text"}}},
  {"data": {"name": "ann"}, "transform": [{"filter": "datum.p=='C' && datum.k=='P'"}], "mark": {"type": "text", "fontSize": 22, "baseline": "middle", "align": "center"}, "encoding": {"text": {"field": "text"}, "color": {"condition": [{"test": "datum.text=='Y(I)'", "value": "black"}, {"test": "datum.text=='Y(ND)'", "value": "#0000ff"}], "value": "#ff0000"}}}
 ],
 "resolve": {"axis": {"x": "independent", "y": "independent"}}
},
{
 "width": 469, "height": 375,
 "data": {"name": "main"},
 "transform": [{"filter": "datum.p=='D'"}],
 "encoding": {
  "x": {"field": "x", "type": "quantitative", "scale": {"domain": [26, 899], "nice": false, "zero": false}, "axis": null},
  "y": {"field": "y", "type": "quantitative", "scale": {"domain": [0, 1], "nice": false, "zero": false}, "axis": null}
 },
 "layer": [
  {"mark": {"type": "line", "strokeWidth": 1},
   "encoding": {
    "x": {"field": "x", "type": "quantitative", "scale": {"domain": [26, 899], "nice": false, "zero": false}, "axis": {"orient": "bottom", "values": [200, 400, 600, 800], "tickSize": -6, "labelPadding": 16, "title": "PPFD (µmol m⁻² s⁻¹)", "titleFontSize": 22, "titlePadding": 10}},
    "y": {"field": "y", "type": "quantitative", "scale": {"domain": [0, 1], "nice": false, "zero": false}, "axis": {"orient": "right", "values": [0, 0.1, 0.2, 0.3, 0.4, 0.5, 0.6, 0.7, 0.8, 0.9, 1], "labelExpr": "round(datum.value*10)%2==0 && datum.value<0.95 ? format(datum.value,'.1f') : ''", "tickSize": {"condition": {"test": "round(datum.value*10)%2==0", "value": -6}, "value": -3}, "labelPadding": 14, "title": "Yield", "titleAngle": 270, "titleBaseline": "top", "titlePadding": 10}},
    "detail": [{"field": "m", "type": "nominal"}, {"field": "t", "type": "nominal"}],
    "color": {"condition": [{"test": "datum.m=='I'", "value": "black"}, {"test": "datum.m=='ND'", "value": "#0000ff"}], "value": "#ff0000"},
    "strokeDash": {"condition": [{"test": "datum.m=='I'", "value": [1, 0]}, {"test": "datum.m=='ND'", "value": [1.5, 3.5]}], "value": [4, 2.5]}
   }},
  {"transform": [{"filter": "datum.m=='I'"}], "mark": {"type": "errorbar", "color": "black", "ticks": {"size": 7}, "thickness": 1}, "encoding": {"yError": {"field": "e"}}},
  {"transform": [{"filter": "datum.m=='ND'"}], "mark": {"type": "errorbar", "color": "#0000ff", "ticks": {"size": 7}, "thickness": 1}, "encoding": {"yError": {"field": "e"}}},
  {"transform": [{"filter": "datum.m=='NA'"}], "mark": {"type": "errorbar", "color": "#ff0000", "ticks": {"size": 7}, "thickness": 1}, "encoding": {"yError": {"field": "e"}}},
  {"mark": {"type": "point", "filled": true, "size": 100, "strokeWidth": 1.2, "opacity": 1},
   "encoding": {
    "x": {"field": "x", "type": "quantitative", "scale": {"domain": [26, 899], "nice": false, "zero": false}, "axis": {"orient": "top", "values": [200, 400, 600, 800], "labels": false, "tickSize": -6, "title": null}},
    "y": {"field": "y", "type": "quantitative", "scale": {"domain": [0, 1], "nice": false, "zero": false}, "axis": {"orient": "left", "values": [0, 0.1, 0.2, 0.3, 0.4, 0.5, 0.6, 0.7, 0.8, 0.9, 1], "labels": false, "tickSize": {"condition": {"test": "round(datum.value*10)%2==0", "value": -6}, "value": -3}, "title": null}},
    "shape": {"condition": {"test": "indexof(datum.t,'C')>=0", "value": "circle"}, "value": "square"},
    "fill": {"condition": [{"test": "indexof(datum.t,'10')==0", "value": "white"}, {"test": "datum.m=='I'", "value": "black"}, {"test": "datum.m=='ND'", "value": "#0000ff"}], "value": "#ff0000"},
    "stroke": {"condition": [{"test": "datum.m=='I'", "value": "black"}, {"test": "datum.m=='ND'", "value": "#0000ff"}], "value": "#ff0000"}
   }},
  {"data": {"name": "ann"}, "transform": [{"filter": "datum.p=='D' && datum.k=='L'"}], "mark": {"type": "text", "fontSize": 21, "fontWeight": "bold", "color": "black", "baseline": "middle", "align": "center"}, "encoding": {"text": {"field": "text"}}},
  {"data": {"name": "ann"}, "transform": [{"filter": "datum.p=='D' && datum.k=='T'"}], "mark": {"type": "text", "fontSize": 17.5, "fontWeight": "bold", "fontStyle": "italic", "color": "black", "baseline": "middle", "align": "center"}, "encoding": {"text": {"field": "text"}}},
  {"data": {"name": "ann"}, "transform": [{"filter": "datum.p=='D' && datum.k=='P'"}], "mark": {"type": "text", "fontSize": 22, "baseline": "middle", "align": "center"}, "encoding": {"text": {"field": "text"}, "color": {"condition": [{"test": "datum.text=='Y(I)'", "value": "black"}, {"test": "datum.text=='Y(ND)'", "value": "#0000ff"}], "value": "#ff0000"}}}
 ],
 "resolve": {"axis": {"x": "independent", "y": "independent"}}
}
]
}
